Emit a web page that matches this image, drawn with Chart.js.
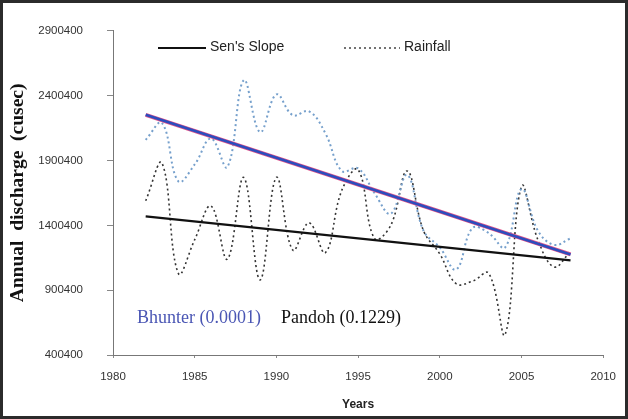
<!DOCTYPE html>
<html>
<head>
<meta charset="utf-8">
<script src="https://cdn.jsdelivr.net/npm/chart.js@4/dist/chart.umd.min.js"></script>
<style>
  html, body { margin: 0; padding: 0; background: #ffffff; }
  #wrap { width: 628px; height: 419px; position: relative; }
  canvas { display: block; }
</style>
</head>
<body>
<div id="wrap"><canvas id="c" width="628" height="419"></canvas></div>
<script>
// Years of record
const years = [1982, 1983, 1984, 1985, 1986, 1987, 1988, 1989, 1990, 1991, 1992, 1993, 1994,
               1995, 1996, 1997, 1998, 1999, 2000, 2001, 2002, 2003, 2004, 2005, 2006, 2007, 2008];

// Annual discharge, Bhunter (cusec)
const bhunterDischarge = [2060000, 2190000, 1740000, 1870000, 2070000, 1850000, 2520000, 2120000,
                          2410000, 2250000, 2280000, 2110000, 1820000, 1840000, 1650000, 1490000,
                          1790000, 1360000, 1230000, 1060000, 1380000, 1340000, 1230000, 1680000,
                          1360000, 1250000, 1300000];

// Annual discharge, Pandoh (cusec)
const pandohDischarge = [1590000, 1880000, 1030000, 1290000, 1550000, 1140000, 1770000, 980000,
                         1770000, 1210000, 1420000, 1190000, 1670000, 1830000, 1300000, 1400000,
                         1820000, 1360000, 1180000, 950000, 970000, 1030000, 560000, 1700000,
                         1290000, 1080000, 1200000];

// Sen's slope trend lines (start / end year)
const trendYears = [1982, 2008];
const bhunterTrend = [2252800, 1176000];
const pandohTrend = [1469700, 1130800];

// Axis ticks
const xTicks = [1980, 1985, 1990, 1995, 2000, 2005, 2010];
const yTicks = [400400, 900400, 1400400, 1900400, 2400400, 2900400];

// Trend labels (significance)
const bhunterLabel = 'Bhunter (0.0001)';
const pandohLabel = 'Pandoh (0.1229)';

const toPoints = (xs, ys) => xs.map((x, i) => ({ x: x, y: ys[i] }));

const framePlugin = {
  id: 'frame',
  beforeDraw(chart) {
    const ctx = chart.ctx;
    ctx.save();
    ctx.fillStyle = '#ffffff';
    ctx.fillRect(0, 0, chart.width, chart.height);
    ctx.restore();
  },
  afterDraw(chart) {
    const ctx = chart.ctx;
    ctx.save();
    // outer frame
    ctx.strokeStyle = '#2b2b2b';
    ctx.lineWidth = 3;
    ctx.strokeRect(1.5, 1.5, chart.width - 3, chart.height - 3);

    // legend
    const ly = 48;
    ctx.strokeStyle = '#111';
    ctx.lineWidth = 2;
    ctx.beginPath();
    ctx.moveTo(158, ly);
    ctx.lineTo(206, ly);
    ctx.stroke();
    ctx.strokeStyle = '#444';
    ctx.lineWidth = 1.4;
    ctx.setLineDash([2, 3]);
    ctx.beginPath();
    ctx.moveTo(344, ly);
    ctx.lineTo(400, ly);
    ctx.stroke();
    ctx.setLineDash([]);
    ctx.fillStyle = '#222';
    ctx.font = '14px "Liberation Sans", Arial, sans-serif';
    ctx.textBaseline = 'middle';
    ctx.fillText("Sen's Slope", 210, ly - 1);
    ctx.fillText('Rainfall', 404, ly - 1);

    // significance labels
    ctx.font = '18px "Liberation Serif", "Times New Roman", serif';
    ctx.fillStyle = '#4a56b4';
    ctx.fillText(bhunterLabel, 137, 318);
    ctx.fillStyle = '#111';
    ctx.fillText(pandohLabel, 281, 318);
    ctx.restore();
  }
};

const dotted = [2, 3];

new Chart(document.getElementById('c'), {
  type: 'line',
  data: {
    datasets: [
      {
        label: "Bhunter Sen's slope",
        data: toPoints(trendYears, bhunterTrend),
        borderColor: '#2d4dbd',
        borderWidth: 2.6,
        pointRadius: 0,
        tension: 0,
        fill: false,
        order: 0
      },
      {
        label: "Bhunter Sen's slope edge",
        data: toPoints(trendYears, bhunterTrend),
        borderColor: '#e4558a',
        borderWidth: 4,
        pointRadius: 0,
        tension: 0,
        fill: false,
        order: 1
      },
      {
        label: "Pandoh Sen's slope",
        data: toPoints(trendYears, pandohTrend),
        borderColor: '#111111',
        borderWidth: 2.2,
        pointRadius: 0,
        tension: 0,
        fill: false,
        order: 2
      },
      {
        label: 'Bhunter rainfall',
        data: toPoints(years, bhunterDischarge),
        borderColor: '#76a0cc',
        borderWidth: 2,
        borderDash: dotted,
        pointRadius: 0,
        tension: 0.4,
        fill: false,
        order: 3
      },
      {
        label: 'Pandoh rainfall',
        data: toPoints(years, pandohDischarge),
        borderColor: '#333333',
        borderWidth: 1.6,
        borderDash: dotted,
        pointRadius: 0,
        tension: 0.4,
        fill: false,
        order: 4
      }
    ]
  },
  options: {
    responsive: false,
    animation: false,
    devicePixelRatio: 1,
    layout: { autoPadding: false, padding: { left: 0, top: 23, right: 20, bottom: 0 } },
    plugins: {
      legend: { display: false },
      tooltip: { enabled: false }
    },
    scales: {
      x: {
        type: 'linear',
        min: xTicks[0],
        max: xTicks[xTicks.length - 1],
        afterBuildTicks(scale) { scale.ticks = xTicks.map(v => ({ value: v })); },
        afterFit(scale) { scale.height = 64; },
        ticks: {
          callback: v => String(v),
          color: '#333',
          font: { family: '"Liberation Sans", Arial, sans-serif', size: 11.5 },
          padding: 12,
          maxRotation: 0
        },
        grid: {
          drawOnChartArea: false,
          drawTicks: true,
          tickLength: 3,
          color: '#888'
        },
        border: { display: true, color: '#777', width: 1 },
        title: {
          display: true,
          text: 'Years',
          color: '#222',
          font: { family: '"Liberation Sans", Arial, sans-serif', size: 12, weight: 'bold' },
          padding: { top: 0, bottom: 7 }
        }
      },
      y: {
        type: 'linear',
        min: yTicks[0],
        max: yTicks[yTicks.length - 1],
        afterBuildTicks(scale) { scale.ticks = yTicks.map(v => ({ value: v })); },
        afterFit(scale) { scale.width = 113; },
        ticks: {
          callback: v => String(v),
          color: '#333',
          font: { family: '"Liberation Sans", Arial, sans-serif', size: 11.5 },
          padding: 24
        },
        grid: {
          drawOnChartArea: false,
          drawTicks: true,
          tickLength: 6,
          color: '#888'
        },
        border: { display: true, color: '#777', width: 1 },
        title: {
          display: true,
          text: 'Annual  discharge  (cusec)',
          color: '#111',
          font: { family: '"Liberation Serif", "Times New Roman", serif', size: 19.5, weight: 'bold' },
          padding: { top: 6, bottom: 0 }
        }
      }
    }
  },
  plugins: [framePlugin]
});
</script>
</body>
</html>
